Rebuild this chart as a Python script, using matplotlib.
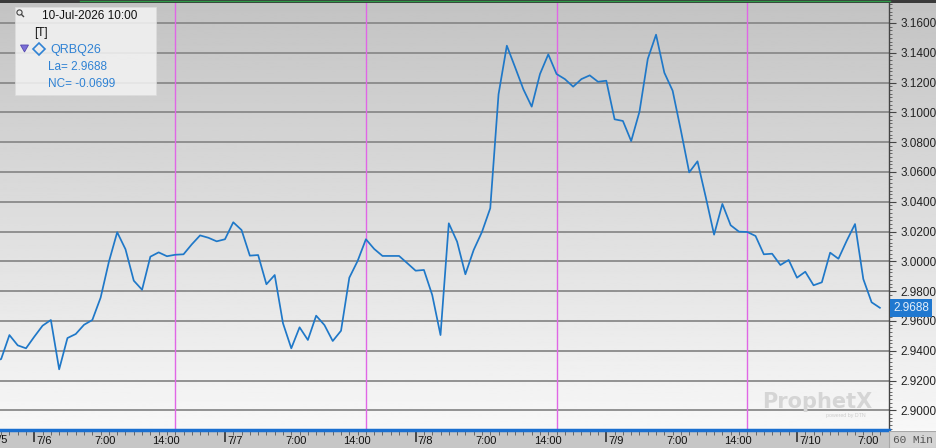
import numpy as np
import matplotlib
matplotlib.use("Agg")
import matplotlib.pyplot as plt
import matplotlib.transforms as mtransforms
from matplotlib.ticker import MultipleLocator, FormatStrFormatter
from matplotlib.patches import Rectangle, Circle, Polygon

# hourly bars of QRBQ26, index 0 = 7/6 00:00, 23 bars per session day
bar_index = list(range(-5, 103))
close = [
    2.9324, 2.9344, 2.9505, 2.9436, 2.9416,
    2.9494, 2.9568, 2.9606, 2.9275, 2.9485, 2.9512, 2.9574, 2.9606, 2.9756, 2.9997,
    3.0195, 3.0081, 2.9870, 2.9809, 3.0031, 3.0060, 3.0034, 3.0044, 3.0047, 3.0114,
    3.0174, 3.0158, 3.0134, 3.0148, 3.0262, 3.0210, 3.0038, 3.0042, 2.9846, 2.9908,
    2.9584, 2.9416, 2.9557, 2.9472, 2.9635, 2.9572, 2.9465, 2.9534, 2.9890, 3.0002,
    3.0148, 3.0083, 3.0036, 3.0036, 3.0036, 2.9987, 2.9937, 2.9942, 2.9774, 2.9505,
    3.0255, 3.0132, 2.9913, 3.0076, 3.0197, 3.0356, 3.1121, 3.1447, 3.1302, 3.1154,
    3.1038, 3.1257, 3.1389, 3.1257, 3.1223, 3.1172, 3.1223, 3.1248, 3.1205, 3.1212,
    3.0953, 3.0942, 3.0807, 3.1004, 3.1358, 3.1521, 3.1266, 3.1145, 3.0877, 3.0597,
    3.0671, 3.0430, 3.0179, 3.0385, 3.0242, 3.0199, 3.0197, 3.0170, 3.0047, 3.0051,
    2.9975, 3.0009, 2.9890, 2.9930, 2.9839, 2.9859, 3.0058, 3.0017, 3.0138, 3.0250,
    2.9881, 2.9725, 2.9688,
]
session_breaks = [17, 40, 63, 86]
day_starts = [0, 23, 46, 69, 92]
xtick_pos = [0, 7, 14, 23, 30, 37, 46, 53, 60, 69, 76, 83, 92, 99]
xtick_lab = ["7/6", "7:00", "14:00", "7/7", "7:00", "14:00", "7/8", "7:00",
             "14:00", "7/9", "7:00", "14:00", "7/10", "7:00"]
symbol = "QRBQ26"
last_time = "10-Jul-2026 10:00"
last_price = 2.9688
net_change = -0.0699

W, H = 936, 448
fig = plt.figure(figsize=(W / 100, H / 100), dpi=100)
plt.rcParams['font.family'] = ['Liberation Sans', 'DejaVu Sans']


def px_rect(x0, y0, x1, y1):
    return [x0 / W, 1 - y1 / H, (x1 - x0) / W, (y1 - y0) / H]


# gradient background behind plot and price scale
bg = fig.add_axes(px_rect(0, 3, W, 430), zorder=0)
grad = np.linspace(0.765, 0.97, 256)[:, None]
bg.imshow(grad, cmap='gray', vmin=0, vmax=1, aspect='auto', extent=[0, 1, 0, 1])
bg.axis('off')

ax = fig.add_axes(px_rect(0, 3, 889, 430), zorder=2)
ax.patch.set_alpha(0)

ax.yaxis.set_major_locator(MultipleLocator(0.02))
ax.yaxis.set_minor_locator(MultipleLocator(0.0025))
ax.yaxis.set_major_formatter(FormatStrFormatter('%.4f'))
ax.yaxis.tick_right()
ax.tick_params(axis='y', which='major', length=5, width=0.8, color='#444444',
               labelsize=8.5, labelcolor='#222222', pad=3)
ax.tick_params(axis='y', which='minor', length=2.5, width=0.6, color='#555555')
ax.tick_params(axis='x', which='both', bottom=False, top=False,
               labelbottom=False, labeltop=False)
ax.grid(axis='y', which='major', color='#8a8a8a', lw=1.3)
ax.set_axisbelow(True)

for b in session_breaks:
    ax.axvline(b, color='#e066e6', lw=1, zorder=1)

ax.plot(bar_index, close, color='#1f78c8', lw=1.25, zorder=3)

for s in ['top', 'left']:
    ax.spines[s].set_visible(False)
ax.spines['right'].set_color('#444444')
ax.spines['right'].set_linewidth(1)
ax.spines['bottom'].set_color('#1a6fd0')
ax.spines['bottom'].set_linewidth(2.5)

# time axis band
tx = fig.add_axes(px_rect(0, 431, 889, 448), sharex=ax, zorder=1)
tx.set_facecolor('#c6c6c6')
tx.set_yticks([])
tx.set_xticks(day_starts)
tx.set_xticks(bar_index, minor=True)
tx.tick_params(axis='x', which='both', direction='in', top=True, bottom=False,
               labelbottom=False, labeltop=False)
tx.tick_params(axis='x', which='major', length=8, width=1.2, color='#333333')
tx.tick_params(axis='x', which='minor', length=3, width=0.7, color='#666666')
for s in tx.spines.values():
    s.set_visible(False)

ax.set_xlim(-4.137, 103.1)
ax.set_ylim(2.88678, 3.17336)

tband = mtransforms.blended_transform_factory(tx.transData, tx.transAxes)
for p, lab in zip(xtick_pos, xtick_lab):
    tx.text(p + 0.25, 0.4, lab, fontsize=8, color='#111111', ha='left', va='center',
            transform=tband)

# price tag for last value
tr = mtransforms.blended_transform_factory(ax.transAxes, ax.transData)
ax.text(1.005, last_price, f"{last_price:.4f}", transform=tr, ha='left', va='center',
        fontsize=8.5, color='#e4eef9', clip_on=False, zorder=5,
        bbox=dict(boxstyle='square,pad=0.25', fc='#1f78d0', ec='none'))

# overlay in pixel coordinates for chrome
ov = fig.add_axes([0, 0, 1, 1], zorder=4)
ov.set_xlim(0, W)
ov.set_ylim(H, 0)
ov.axis('off')
ov.patch.set_alpha(0)

ov.text(-8, 440, "7/5", fontsize=8, color='#111111', ha='left', va='center', clip_on=False)

ov.add_patch(Rectangle((0, 0), W, 3, fc='#3a3a3a', ec='none'))
ov.plot([80, 890], [1.5, 1.5], color='#2f9a48', lw=1)

ov.add_patch(Rectangle((889, 431), W - 889, 17, fc='#d4d4d4', ec='#a8a8a8', lw=0.8))
ov.text(893, 440, "60 Min", family='Liberation Mono', fontsize=8, color='#555555',
        ha='left', va='center')

# legend box
ov.add_patch(Rectangle((15, 7), 141, 88, fc='#f2f2f2', ec='#dcdcdc', lw=0.6, alpha=0.88))
ov.add_patch(Circle((19.5, 12.5), 2.6, fill=False, ec='#444444', lw=0.8))
ov.plot([21.4, 23.5], [14.4, 16.5], color='#444444', lw=1)
ov.text(42, 16, last_time, fontsize=8.5, color='#111111', ha='left', va='center')
ov.text(34, 33, "[T]", fontsize=8.5, color='#111111', ha='left', va='center')
ov.add_patch(Polygon([(20.5, 45), (28.5, 45), (24.5, 52)], closed=True,
                     fc='#7b6fd6', ec='#5548b0', lw=0.6))
ov.plot([38.5], [49.5], marker='D', ms=6.5, mfc='none', mec='#2f82d4', mew=1.2)
blue = '#2f82d4'
ov.text(50, 50, symbol, fontsize=9, color=blue, ha='left', va='center')
ov.text(48, 67, f"La= {last_price:.4f}", fontsize=8.5, color=blue, ha='left', va='center')
ov.text(48, 84, f"NC= {net_change:.4f}", fontsize=8.5, color=blue, ha='left', va='center')

# watermark
ov.text(762, 402, "ProphetX", fontsize=15, weight='bold', family='DejaVu Sans',
        color='#d5d5d5', ha='left', va='center')
ov.text(866, 416, "powered by DTN", fontsize=3.8, color='#cdcdcd', ha='right', va='center')

fig.savefig("out.png", dpi=100)
